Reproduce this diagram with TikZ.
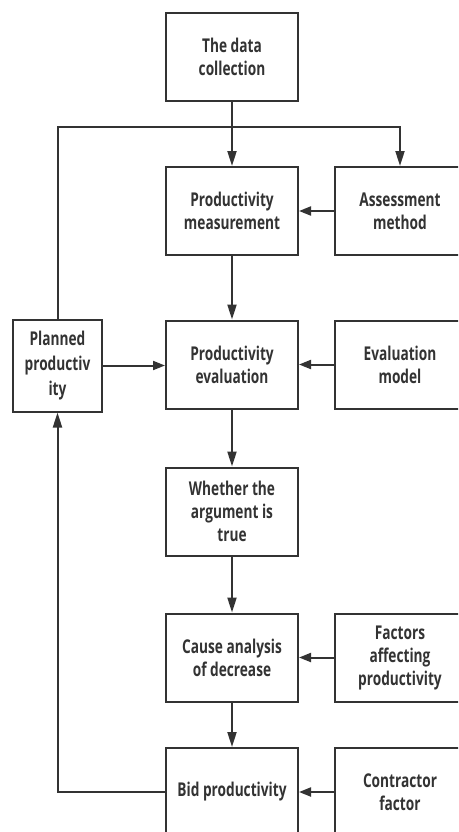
\documentclass[tikz,border=0pt]{standalone}
\usepackage{fontspec}
\newfontfamily\boxfont{Open Sans}[FakeStretch=0.72]
\usetikzlibrary{arrows.meta}
\definecolor{ink}{HTML}{333333}
\tikzset{
  box/.style={draw=ink, line width=2pt, rectangle, align=center, inner sep=0pt,
    font=\boxfont\bfseries\fontsize{19}{23}\selectfont, text=ink},
  mainbox/.style={box, minimum width=132pt, minimum height=88pt},
  sidebox/.style={box, minimum width=130pt, minimum height=88pt},
  link/.style={draw=ink, line width=2pt},
  arr/.style={link, -{Triangle[length=12pt,width=9pt]}},
  varr/.style={link, -{Triangle[length=15pt,width=9pt]}}
}
\begin{document}
\begin{tikzpicture}[x=1pt,y=-1pt]
\clip (0,0) rectangle (458,832);
\fill[white] (0,0) rectangle (458,832);
\node[mainbox] (dc) at (232,57) {The data\\collection};
\node[mainbox] (pm) at (232,211) {Productivity\\measurement};
\node[sidebox] (am) at (400,211) {Assessment\\method};
\node[box, minimum width=89pt, minimum height=92pt, font=\boxfont\bfseries\fontsize{19}{25}\selectfont] (pp) at (57.5,365.5) {Planned\\productiv\\ity};
\node[mainbox] (pe) at (232,364.5) {Productivity\\evaluation};
\node[sidebox] (em) at (400,364.5) {Evaluation\\model};
\node[mainbox] (wa) at (232,511.5) {Whether the\\argument is\\true};
\node[mainbox] (ca) at (232,657.5) {Cause analysis\\of decrease};
\node[sidebox] (fa) at (400,657.5) {Factors\\affecting\\productivity};
\node[mainbox] (bp) at (232,792) {Bid productivity};
\node[sidebox] (cf) at (400,792) {Contractor\\factor};
\coordinate (tl) at (pp.north |- 0,127);
\draw[varr] (dc.south) -- (pm.north);
\draw[varr] (pp.north) -- (tl) -| (am.north);
\draw[arr] (am.west) -- (pm.east);
\draw[varr] (pm.south) -- (pe.north);
\draw[arr] (pp.east |- 0,365.5) -- (pe.west |- 0,365.5);
\draw[arr] (em.west) -- (pe.east);
\draw[varr] (pe.south) -- (wa.north);
\draw[varr] (wa.south) -- (ca.north);
\draw[arr] (fa.west) -- (ca.east);
\draw[varr] (ca.south) -- (bp.north);
\draw[arr] (cf.west) -- (bp.east);
\draw[varr] (bp.west) -| (pp.south);
\end{tikzpicture}
\end{document}
